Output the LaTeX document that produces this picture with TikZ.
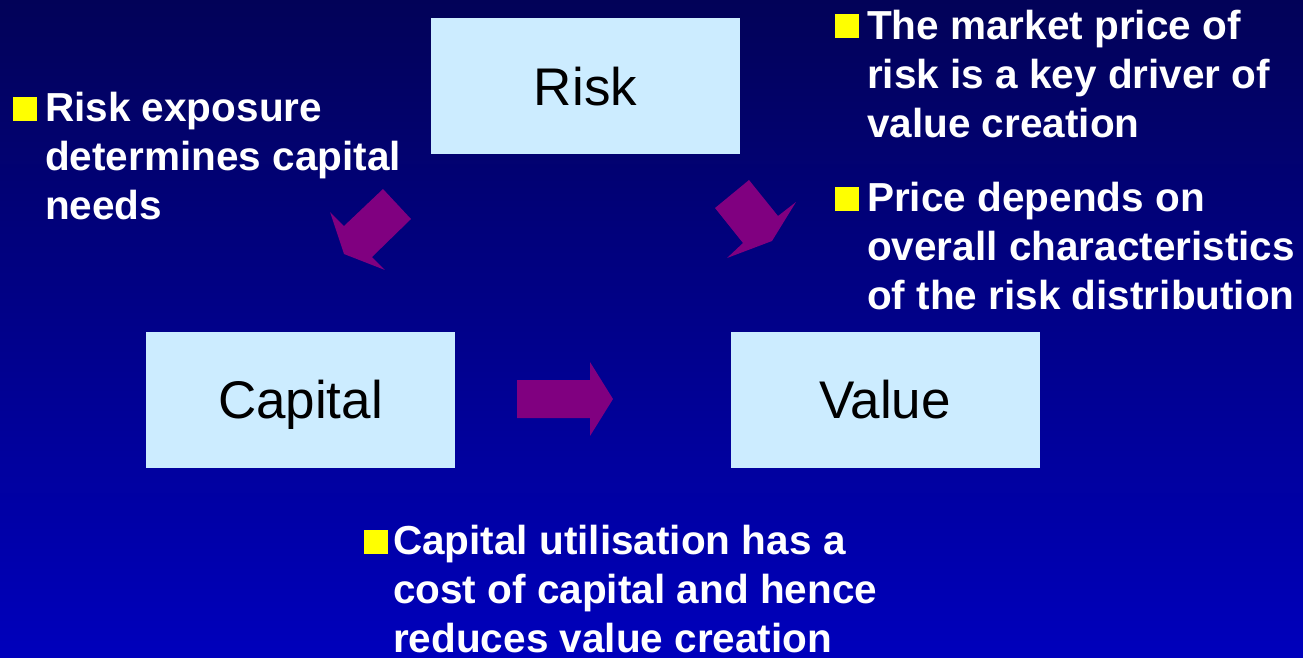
\documentclass[tikz,border=0pt]{standalone}
\usepackage{fontspec}
\setmainfont{Liberation Sans}
\usetikzlibrary{positioning}

\definecolor{boxblue}{HTML}{CCECFF}
\definecolor{arrowpurple}{HTML}{800080}
\definecolor{bulletyellow}{HTML}{FFFF00}
\definecolor{navytop}{HTML}{020258}
\definecolor{navybottom}{HTML}{0000BC}

\begin{document}
\begin{tikzpicture}[x=1pt, y=-1pt,
  stage/.style={fill=boxblue, inner sep=0pt, minimum width=309pt, minimum height=136pt, text height=38pt, text depth=0pt, font=\fontsize{53}{60}\selectfont},
  note/.style={text=white, align=left, inner sep=0pt, anchor=base west, font=\fontsize{40.5}{49}\selectfont\bfseries},
  bullet/.style={fill=bulletyellow, inner sep=0pt, minimum size=24pt, anchor=south west},
  blockarrow/.style={fill=arrowpurple}]
\shade[top color=navytop, bottom color=navybottom] (0,0) rectangle (1303,657);
\useasboundingbox (0,0) rectangle (1303,657);

% the three stages
\node[stage] (risk) at (585.5,86) {Risk};
\node[stage] (capital) at (300.5,399.5) {Capital};
\node[stage] (value) at (885,399.5) {Value};

% block arrows between the stages
\fill[blockarrow] (344,254) -- (330,212) -- (344,226) -- (383,189) -- (411,219) -- (372,257) -- (385,270) -- cycle;
\fill[blockarrow] (749,180) -- (715,208) -- (743,243) -- (727,258) -- (772,241) -- (796,202) -- (778,216) -- cycle;
\fill[blockarrow] (517,380) -- (590,380) -- (590,362) -- (613,399) -- (590,436) -- (590,418) -- (517,418) -- cycle;

% notes (base anchor sits on the last line)
\node[bullet] (b1) at (13,121) {};
\node[note] (exposure) at (45,219) {Risk exposure\\determines capital\\needs};
\node[bullet] (b2) at (835,38) {};
\node[note] (market) at (867,137) {The market price of\\risk is a key driver of\\value creation};
\node[bullet] (b3) at (835,211) {};
\node[note] (price) at (867,309) {Price depends on\\overall characteristics\\of the risk distribution};
\node[bullet] (b4) at (364,554) {};
\node[note] (cost) at (393,652) {Capital utilisation has a\\cost of capital and hence\\reduces value creation};
\end{tikzpicture}
\end{document}
